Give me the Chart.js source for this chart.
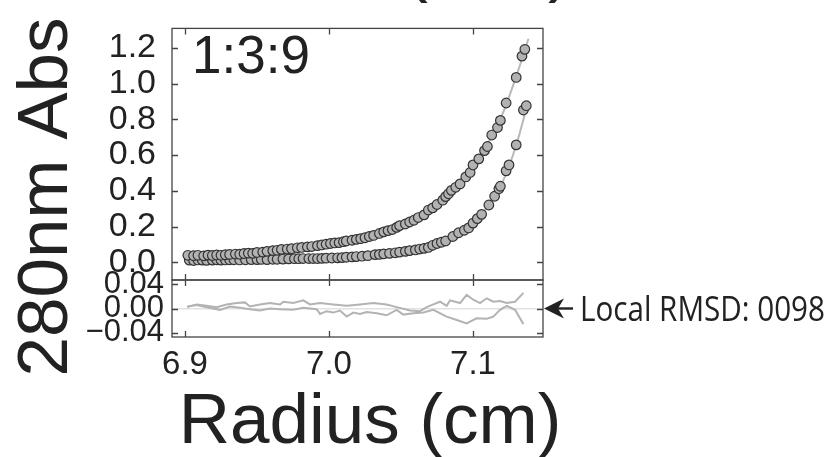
<!DOCTYPE html>
<html lang="en">
<head>
  <meta charset="UTF-8" />
  <title>1:3:9 radial absorbance</title>
  <script src="https://cdn.jsdelivr.net/npm/chart.js"></script>
  <style>
    html, body { margin: 0; padding: 0; background: #fff; }
    #wrap { position: relative; width: 832px; height: 457px; overflow: hidden; }
    canvas { position: absolute; left: 0; top: 0; }
  </style>
</head>
<body>
  <div id="wrap">
    <canvas id="mainChart" width="832" height="457"></canvas>
    <canvas id="residChart" width="832" height="457"></canvas>
  </div>

  <script>
    // radius (cm) and absorbance, upper (more concentrated) scan
    const upperX = [6.902, 6.906, 6.909, 6.913, 6.916, 6.919, 6.922, 6.925, 6.928, 6.931, 6.935, 6.938, 6.941, 6.944, 6.947,
      6.950, 6.954, 6.957, 6.961, 6.964, 6.967, 6.971, 6.974, 6.978, 6.981, 6.985, 6.988, 6.992, 6.995, 6.998, 7.001, 7.004,
      7.007, 7.010, 7.012, 7.016, 7.019, 7.022, 7.025, 7.028, 7.031, 7.035, 7.038, 7.041, 7.044, 7.047, 7.049, 7.053, 7.056,
      7.059, 7.062, 7.066, 7.069, 7.072, 7.075, 7.079, 7.081, 7.083, 7.085, 7.088, 7.091, 7.095, 7.098, 7.100, 7.104, 7.108,
      7.110, 7.113, 7.117, 7.119, 7.123, 7.130, 7.134, 7.136];
    const upperY = [0.040, 0.038, 0.040, 0.037, 0.041, 0.039, 0.042, 0.040, 0.043, 0.045, 0.047, 0.046, 0.050, 0.052, 0.051,
      0.056, 0.058, 0.062, 0.066, 0.068, 0.073, 0.075, 0.077, 0.082, 0.084, 0.087, 0.089, 0.094, 0.098, 0.102, 0.106, 0.109,
      0.111, 0.116, 0.120, 0.124, 0.129, 0.133, 0.138, 0.145, 0.151, 0.162, 0.171, 0.178, 0.184, 0.196, 0.206, 0.215, 0.226,
      0.236, 0.251, 0.266, 0.293, 0.305, 0.324, 0.348, 0.368, 0.384, 0.403, 0.420, 0.439, 0.478, 0.503, 0.545, 0.579, 0.625,
      0.648, 0.712, 0.754, 0.794, 0.891, 1.034, 1.153, 1.191];

    // lower scan
    const lowerX = [6.903, 6.906, 6.909, 6.912, 6.915, 6.919, 6.922, 6.925, 6.928, 6.931, 6.934, 6.938, 6.942, 6.946, 6.950,
      6.953, 6.957, 6.961, 6.964, 6.968, 6.972, 6.976, 6.979, 6.982, 6.986, 6.989, 6.992, 6.995, 6.998, 7.002, 7.006, 7.009,
      7.012, 7.016, 7.019, 7.023, 7.027, 7.032, 7.035, 7.038, 7.042, 7.046, 7.049, 7.053, 7.056, 7.060, 7.063, 7.066, 7.069,
      7.072, 7.075, 7.078, 7.081, 7.086, 7.090, 7.094, 7.097, 7.100, 7.103, 7.106, 7.111, 7.115, 7.118, 7.119, 7.123, 7.125,
      7.130, 7.135, 7.137];
    const lowerY = [0.013, 0.011, 0.014, 0.013, 0.012, 0.013, 0.015, 0.013, 0.014, 0.015, 0.015, 0.014, 0.015, 0.016, 0.016,
      0.017, 0.016, 0.018, 0.018, 0.019, 0.020, 0.021, 0.021, 0.022, 0.022, 0.022, 0.022, 0.023, 0.024, 0.025, 0.026, 0.027,
      0.029, 0.031, 0.033, 0.035, 0.038, 0.044, 0.045, 0.048, 0.051, 0.054, 0.058, 0.062, 0.066, 0.070, 0.075, 0.079, 0.084,
      0.096, 0.106, 0.113, 0.120, 0.145, 0.166, 0.180, 0.193, 0.220, 0.245, 0.269, 0.321, 0.370, 0.412, 0.426, 0.512, 0.545,
      0.657, 0.852, 0.876];

    // fitted curves
    const fitX = [6.90, 6.95, 7.00, 7.03, 7.05, 7.07, 7.085, 7.10, 7.11, 7.12, 7.13, 7.1385];
    const upperFitY = [0.038, 0.055, 0.105, 0.148, 0.205, 0.295, 0.400, 0.545, 0.660, 0.820, 1.040, 1.25];
    const lowerFitY = [0.012, 0.016, 0.024, 0.040, 0.060, 0.088, 0.140, 0.220, 0.310, 0.440, 0.655, 0.905];

    // residuals
    const residAX = [6.9016, 6.9081, 6.915, 6.922, 6.9289, 6.9359, 6.9417, 6.9451, 6.9521, 6.959, 6.966, 6.9683, 6.9752,
      6.9822, 6.9868, 6.9938, 7.003, 7.0123, 7.0215, 7.0308, 7.04, 7.047, 7.0563, 7.0632, 7.0678, 7.0725, 7.0771, 7.0817,
      7.084, 7.091, 7.0956, 7.1002, 7.1049, 7.1095, 7.1141, 7.1188, 7.1234, 7.1292, 7.135];
    const residAY = [0.0022, 0.0067, 0.0044, 0.0022, 0.0067, 0.0089, 0.0100, 0.0033, 0.0067, 0.0089, 0.0067, 0.0111, 0.0089,
      0.0133, 0.0067, 0.0089, 0.0067, 0.0044, 0.0067, 0.0089, 0.0067, 0.0022, -0.0033, -0.0044, 0.0022, 0.0067, 0.0111,
      0.0044, 0.0133, 0.0089, 0.0222, 0.0144, 0.0089, 0.0167, 0.0111, 0.0122, 0.0089, 0.0111, 0.0256];
    const residBX = [6.9016, 6.9081, 6.915, 6.9243, 6.9313, 6.9382, 6.9451, 6.9521, 6.959, 6.966, 6.9752, 6.9822, 6.9914,
      6.9938, 6.9984, 7.003, 7.0076, 7.0123, 7.0169, 7.0215, 7.0262, 7.0331, 7.04, 7.047, 7.0516, 7.0586, 7.0655, 7.0725,
      7.0817, 7.0887, 7.0956, 7.1025, 7.1095, 7.1141, 7.1188, 7.1234, 7.1292, 7.135];
    const residBY = [0.0033, 0.0056, 0.0022, -0.0022, 0.0033, 0.0011, -0.0011, -0.0033, 0.0000, -0.0011, -0.0022, 0.0011,
      -0.0011, -0.0089, -0.0044, -0.0067, -0.0033, -0.0133, -0.0067, -0.0089, -0.0056, -0.0078, -0.0111, -0.0022, -0.0100,
      -0.0078, -0.0067, -0.0022, -0.0133, -0.0189, -0.0244, -0.0161, -0.0167, -0.0133, -0.0022, 0.0044, -0.0022, -0.0256];

    const xTicks = [6.9, 7.0, 7.1];
    const xTickLabels = ["6.9", "7.0", "7.1"];
    const yTicks = [0.0, 0.2, 0.4, 0.6, 0.8, 1.0, 1.2];
    const yTickLabels = ["0.0", "0.2", "0.4", "0.6", "0.8", "1.0", "1.2"];
    const rTicks = [-0.04, 0.0, 0.04];
    const rTickLabels = ["\u22120.04", "0.00", "0.04"];

    const FONT = "'Liberation Sans', Arial, sans-serif";
    const INK = "#222";
    const X_MIN = 6.891, X_MAX = 7.1486;

    const pts = (xs, ys) => xs.map((x, i) => ({ x: x, y: ys[i] }));

    // box + inward ticks on all four sides
    function frame(chart, xs, ys) {
      const ctx = chart.ctx, a = chart.chartArea;
      const sx = chart.scales.x, sy = chart.scales.y;
      ctx.save();
      ctx.strokeStyle = "#444";
      ctx.lineWidth = 1.3;
      ctx.strokeRect(a.left, a.top, a.right - a.left, a.bottom - a.top);
      ctx.beginPath();
      xs.forEach(v => {
        const p = Math.round(sx.getPixelForValue(v)) + 0.5;
        ctx.moveTo(p, a.top); ctx.lineTo(p, a.top + 6);
        ctx.moveTo(p, a.bottom); ctx.lineTo(p, a.bottom - 6);
      });
      ys.forEach(v => {
        const p = Math.round(sy.getPixelForValue(v)) + 0.5;
        ctx.moveTo(a.left, p); ctx.lineTo(a.left + 6, p);
        ctx.moveTo(a.right, p); ctx.lineTo(a.right - 6, p);
      });
      ctx.stroke();
      ctx.restore();
    }

    const mainFrame = {
      id: "mainFrame",
      beforeDraw(chart) {
        const ctx = chart.ctx;
        ctx.save();
        ctx.fillStyle = "#fff";
        ctx.fillRect(0, 0, chart.width, chart.height);
        ctx.restore();
      },
      afterDraw(chart) {
        frame(chart, xTicks, yTicks);
        const ctx = chart.ctx;
        ctx.save();
        ctx.fillStyle = INK;
        ctx.textAlign = "left";
        ctx.textBaseline = "alphabetic";
        ctx.font = "53px " + FONT;
        ctx.fillText("1:3:9", 192, 73);
        // title above, cut off by the top edge: only the paren tails show
        ctx.textAlign = "center";
        ctx.font = "72px " + FONT;
        const m = ctx.measureText("(mM)");
        ctx.fillText("(mM)", 488, 3 - m.actualBoundingBoxDescent);
        ctx.restore();
      }
    };

    const residFrame = {
      id: "residFrame",
      afterDraw(chart) {
        frame(chart, xTicks, rTicks);
        const ctx = chart.ctx;
        ctx.save();
        ctx.fillStyle = INK;

        ctx.font = "71px " + FONT;
        ctx.textAlign = "center";
        ctx.textBaseline = "alphabetic";
        ctx.fillText("Radius (cm)", 370, 443);

        ctx.save();
        ctx.translate(67, 197);
        ctx.rotate(-Math.PI / 2);
        ctx.fillText("280nm Abs", 0, 0);
        ctx.restore();

        // arrow pointing at the residual panel
        const yz = chart.scales.y.getPixelForValue(0);
        ctx.beginPath();
        ctx.moveTo(544, yz);
        ctx.lineTo(564, yz - 10);
        ctx.lineTo(558, yz);
        ctx.lineTo(564, yz + 10);
        ctx.closePath();
        ctx.fill();
        ctx.fillRect(556, yz - 1.2, 17, 2.4);

        const label = "Local RMSD: 0098";
        ctx.font = "35px 'Open Sans', sans-serif";
        ctx.textAlign = "left";
        const w = ctx.measureText(label).width;
        ctx.translate(580, yz + 12);
        ctx.scale(245 / w, 1);
        ctx.fillText(label, 0, 0);
        ctx.restore();
      }
    };

    const dotStyle = {
      showLine: false,
      pointRadius: 4.8,
      pointBackgroundColor: "#b2b2b2",
      pointBorderColor: "#333",
      pointBorderWidth: 1.2,
      order: 1
    };
    const fitStyle = {
      showLine: true,
      pointRadius: 0,
      borderColor: "#b9b9b9",
      borderWidth: 2,
      cubicInterpolationMode: "monotone",
      order: 2
    };

    new Chart(document.getElementById("mainChart"), {
      type: "scatter",
      data: {
        datasets: [
          Object.assign({ label: "upper", data: pts(upperX, upperY) }, dotStyle),
          Object.assign({ label: "lower", data: pts(lowerX, lowerY) }, dotStyle),
          Object.assign({ label: "upper fit", data: pts(fitX, upperFitY) }, fitStyle),
          Object.assign({ label: "lower fit", data: pts(fitX, lowerFitY) }, fitStyle)
        ]
      },
      options: {
        responsive: false,
        animation: false,
        layout: { padding: { top: 23, right: 289, left: 0, bottom: 0 } },
        plugins: { legend: { display: false }, tooltip: { enabled: false } },
        scales: {
          x: {
            type: "linear", min: X_MIN, max: X_MAX,
            grid: { display: false }, border: { display: false },
            ticks: { display: false },
            afterBuildTicks: s => { s.ticks = xTicks.map(v => ({ value: v })); },
            afterFit: s => { s.height = 177; }
          },
          y: {
            min: -0.098, max: 1.308,
            grid: { display: false }, border: { display: false },
            afterBuildTicks: s => { s.ticks = yTicks.map(v => ({ value: v })); },
            ticks: {
              color: INK, padding: 8, autoSkip: false, font: { family: FONT, size: 34 },
              callback: v => yTickLabels[yTicks.indexOf(v)]
            },
            afterFit: s => { s.width = 172; }
          }
        }
      },
      plugins: [mainFrame]
    });

    const residStyle = {
      showLine: true,
      pointRadius: 0,
      borderColor: "#b3b3b3",
      borderWidth: 2,
      tension: 0
    };

    new Chart(document.getElementById("residChart"), {
      type: "scatter",
      data: {
        datasets: [
          Object.assign({ label: "resid A", data: pts(residAX, residAY) }, residStyle),
          Object.assign({ label: "resid B", data: pts(residBX, residBY) }, residStyle)
        ]
      },
      options: {
        responsive: false,
        animation: false,
        layout: { padding: { top: 280, right: 289, left: 0, bottom: 0 } },
        plugins: { legend: { display: false }, tooltip: { enabled: false } },
        scales: {
          x: {
            type: "linear", min: X_MIN, max: X_MAX,
            grid: { display: false }, border: { display: false },
            afterBuildTicks: s => { s.ticks = xTicks.map(v => ({ value: v })); },
            ticks: {
              color: INK, padding: 0, maxRotation: 0, autoSkip: false, font: { family: FONT, size: 33 },
              callback: v => xTickLabels[xTicks.indexOf(v)]
            },
            afterFit: s => { s.height = 120; }
          },
          y: {
            min: -0.0467, max: 0.0467,
            border: { display: false },
            grid: {
              drawTicks: false, lineWidth: 1.5,
              color: c => (c.tick && c.tick.value === 0 ? "#e2e2e2" : "rgba(0,0,0,0)")
            },
            afterBuildTicks: s => { s.ticks = rTicks.map(v => ({ value: v })); },
            ticks: {
              color: INK, padding: 8, autoSkip: false, font: { family: FONT, size: 31 },
              callback: v => rTickLabels[rTicks.indexOf(v)]
            },
            afterFit: s => { s.width = 172; }
          }
        }
      },
      plugins: [residFrame]
    });
  </script>
</body>
</html>
